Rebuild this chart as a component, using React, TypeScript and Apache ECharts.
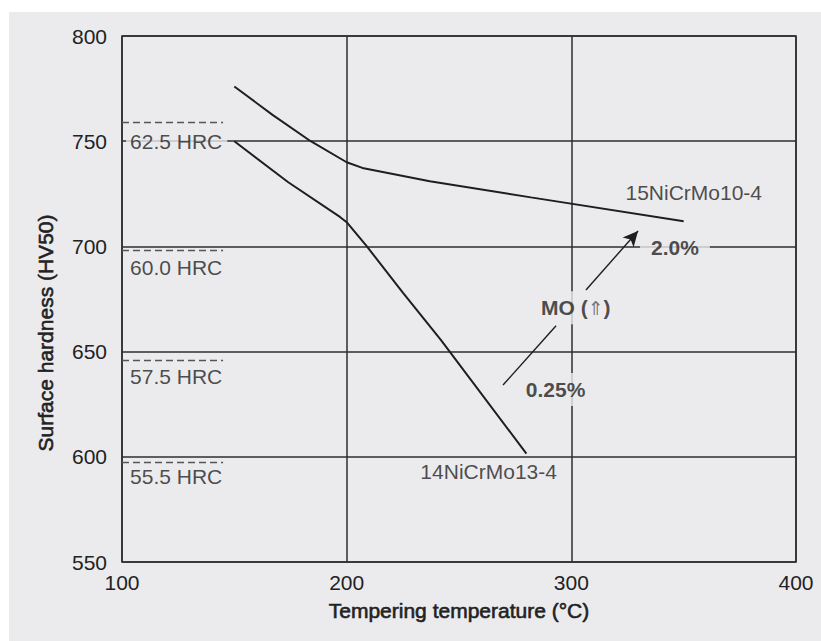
import React, { useEffect, useRef } from 'react';
import * as echarts from 'echarts';

// Axes
const xMin = 100, xMax = 400, xStep = 100;
const yMin = 550, yMax = 800, yStep = 50;
const xTitle = 'Tempering temperature (°C)';
const yTitle = 'Surface hardness (HV50)';

// Steel curves [temperature °C, HV50]
const steelNames = ['15NiCrMo10-4', '14NiCrMo13-4'];
const curve15NiCrMo10_4 = [[150, 776], [167, 762.5], [184, 750], [200, 740], [207, 737.3], [237, 731], [282, 723.3], [350, 712]];
const curve14NiCrMo13_4 = [[150, 750], [174, 730.5], [197, 714], [200, 711.5], [209, 700], [225, 678], [242, 655.5], [280, 601.5]];
const steelLabelAnchors = [[354.5, 725.7], [263.2, 592.9]];

// HRC reference levels
const hrcNames = ['62.5 HRC', '60.0 HRC', '57.5 HRC', '55.5 HRC'];
const hrcHV = [759, 698, 646, 597.5];
const hrcLineEndX = 145;
const hrcLabelY = [750, 690.2, 638.4, 590.4];
const hrcLabelX = 101.8;

// MO annotation
const moTexts = ['2.0%', 'MO (⇑)', '0.25%'];
const moAnchors = [[346.1, 699.6], [302, 670.9], [293, 632]];
const moArrowLower = [[269.6, 634.1], [293.2, 662.3]];
const moArrowUpper = [[306.5, 679.3], [329.7, 707.3]];

const FONT = '"Liberation Sans", Arial, Helvetica, sans-serif';
const BG = '#ebebee';
const INK = '#1e1e1e';
const GRID = '#2e2e2e';
const TEXT = '#222';

export default function App() {
  const ref = useRef<HTMLDivElement>(null);
  useEffect(() => {
    if (!ref.current) return;
    const chart = echarts.init(ref.current, undefined, { renderer: 'svg' });

    const hrcLabelItems = hrcNames.map((n, i) => ({
      value: [hrcLabelX, hrcLabelY[i]],
      label: {
        show: true,
        formatter: n,
        position: 'right',
        distance: 0,
        fontSize: 21,
        fontFamily: FONT,
        color: TEXT,
        backgroundColor: i === 0 ? BG : 'transparent',
        padding: [2, 5, 2, 4],
      },
    }));
    const steelLabelItems = steelNames.map((n, i) => ({
      value: steelLabelAnchors[i],
      label: {
        show: true,
        formatter: n,
        position: 'inside',
        fontSize: 21,
        fontFamily: FONT,
        color: TEXT,
      },
    }));
    const moPads = [[2, 11], [6, 4], [6, 3]];
    const moLabelItems = moTexts.map((t, i) => ({
      value: moAnchors[i],
      label: {
        show: true,
        formatter: t === 'MO (⇑)' ? '{b|MO (}{a|⇑}{b|)}' : t,
        position: 'inside',
        fontSize: 21,
        fontWeight: 'bold',
        fontFamily: FONT,
        color: TEXT,
        backgroundColor: BG,
        padding: moPads[i],
        rich: {
          b: { fontSize: 21, fontWeight: 'bold', fontFamily: FONT, color: TEXT },
          a: { fontSize: 19, fontWeight: 'normal', fontFamily: '"DejaVu Sans", sans-serif', color: '#555' },
        },
      },
    }));

    chart.setOption({
      animation: false,
      backgroundColor: BG,
      grid: {
        left: 122, top: 36, right: 25, bottom: 79,
        show: true, borderColor: GRID, borderWidth: 1.5, backgroundColor: 'transparent',
      },
      xAxis: {
        type: 'value', min: xMin, max: xMax, interval: xStep,
        axisLine: { show: false },
        axisTick: { show: false },
        splitLine: { show: true, lineStyle: { color: GRID, width: 1.5 } },
        axisLabel: { fontSize: 21, fontFamily: FONT, color: TEXT, margin: 10 },
      },
      yAxis: {
        type: 'value', min: yMin, max: yMax, interval: yStep,
        axisLine: { show: false },
        axisTick: { show: false },
        splitLine: { show: true, lineStyle: { color: GRID, width: 1.5 } },
        axisLabel: { fontSize: 21, fontFamily: FONT, color: TEXT, margin: 15 },
      },
      graphic: [
        { type: 'rect', shape: { x: 0, y: 0, width: 821, height: 12 }, style: { fill: '#ffffff' }, silent: true },
        { type: 'rect', shape: { x: 0, y: 0, width: 9, height: 641 }, style: { fill: '#ffffff' }, silent: true },
        {
          type: 'text', x: 459, y: 610,
          style: {
            text: xTitle, fill: TEXT, stroke: TEXT, lineWidth: 0.6,
            font: `21px ${FONT}`, align: 'center', verticalAlign: 'middle',
          },
        },
        {
          type: 'text', x: 45, y: 333, rotation: Math.PI / 2,
          style: {
            text: yTitle, fill: TEXT, stroke: TEXT, lineWidth: 0.6,
            font: `21px ${FONT}`, align: 'center', verticalAlign: 'middle',
          },
        },
      ],
      series: [
        {
          name: steelNames[0], type: 'line', data: curve15NiCrMo10_4, showSymbol: false, symbol: 'none',
          lineStyle: { color: INK, width: 2 }, z: 3,
        },
        {
          name: steelNames[1], type: 'line', data: curve14NiCrMo13_4, showSymbol: false, symbol: 'none',
          lineStyle: { color: INK, width: 2 }, z: 3,
        },
        {
          name: 'HRC', type: 'line', data: [], symbol: 'none',
          markLine: {
            silent: true, symbol: ['none', 'none'], label: { show: false },
            lineStyle: { color: '#555', width: 1.3, type: [7, 4] },
            data: hrcHV.map((v) => [{ coord: [xMin, v] }, { coord: [hrcLineEndX, v] }]),
          },
        },
        {
          name: 'MO arrow', type: 'line', data: [], symbol: 'none', z: 4,
          markLine: {
            silent: true, symbol: ['none', 'none'], symbolSize: [11, 15], label: { show: false },
            lineStyle: { color: INK, width: 1.4, type: 'solid' },
            data: [
              [{ coord: moArrowLower[0], symbol: 'none' }, { coord: moArrowLower[1], symbol: 'none' }],
              [{ coord: moArrowUpper[0], symbol: 'none' }, { coord: moArrowUpper[1], symbol: 'arrow' }],
            ],
          },
        },
        {
          name: 'labels', type: 'scatter', symbolSize: 0, z: 5,
          data: [...hrcLabelItems, ...steelLabelItems, ...moLabelItems],
        },
      ],
    });
    return () => chart.dispose();
  }, []);
  return <div ref={ref} style={{ position: 'absolute', left: 0, top: 0, width: 821, height: 641 }} />;
}
